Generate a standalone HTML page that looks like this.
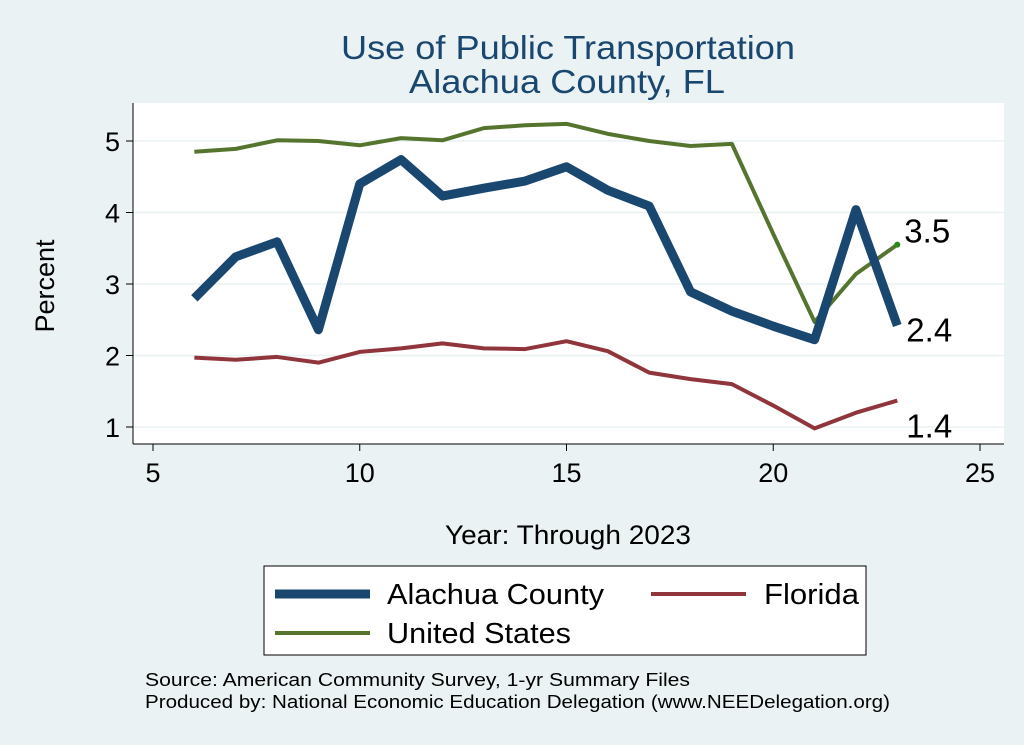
<!DOCTYPE html>
<html><head><meta charset="utf-8"><style>
body{margin:0;background:#eaf2f3;}
svg{display:block;font-family:"Liberation Sans",sans-serif;}
</style></head><body>
<svg width="1024" height="745" viewBox="0 0 1024 745">
<rect x="0" y="0" width="1024" height="745" fill="#eaf2f3"/>
<rect x="133" y="103" width="871" height="341" fill="#ffffff"/>
<text x="341" y="59" textLength="454" lengthAdjust="spacingAndGlyphs" font-size="33" fill="#1a476f">Use of Public Transportation</text>
<text x="409" y="93" textLength="316" lengthAdjust="spacingAndGlyphs" font-size="33" fill="#1a476f">Alachua County, FL</text>
<g id="grid"></g><g id="axes"></g><g id="series"></g>
<text transform="translate(54,286) rotate(-90)" text-anchor="middle" font-size="27" fill="#000">Percent</text>
<text x="445" y="544" textLength="246" lengthAdjust="spacingAndGlyphs" font-size="27" fill="#000">Year: Through 2023</text>
<g>
<rect x="264" y="566" width="602" height="89" fill="#fff" stroke="#000" stroke-width="1"/>
<line x1="275" y1="594" x2="370" y2="594" stroke="#1a476f" stroke-width="9"/>
<text x="387" y="604" textLength="217" lengthAdjust="spacingAndGlyphs" font-size="29">Alachua County</text>
<line x1="651" y1="594" x2="746" y2="594" stroke="#90353b" stroke-width="4"/>
<text x="764" y="604" textLength="95" lengthAdjust="spacingAndGlyphs" font-size="29">Florida</text>
<line x1="275" y1="633" x2="370" y2="633" stroke="#55752f" stroke-width="4"/>
<text x="387" y="643" textLength="184" lengthAdjust="spacingAndGlyphs" font-size="29">United States</text>
</g>
<text x="145" y="686" textLength="545" lengthAdjust="spacingAndGlyphs" font-size="18">Source: American Community Survey, 1-yr Summary Files</text>
<text x="145" y="708" textLength="745" lengthAdjust="spacingAndGlyphs" font-size="18">Produced by: National Economic Education Delegation (www.NEEDelegation.org)</text>
</svg>
<script>
const years=[6,7,8,9,10,11,12,13,14,15,16,17,18,19,20,21,22,23];
const alachua=[2.8,3.38,3.59,2.36,4.4,4.74,4.23,4.34,4.44,4.64,4.31,4.09,2.89,2.62,2.41,2.22,4.04,2.42];
const florida=[1.97,1.94,1.98,1.9,2.05,2.1,2.17,2.1,2.09,2.2,2.06,1.76,1.67,1.6,1.3,0.98,1.2,1.37];
const us=[4.85,4.89,5.01,5.0,4.94,5.04,5.01,5.18,5.22,5.24,5.1,5.0,4.93,4.96,3.7,2.47,3.14,3.55];
const xTicks=[5,10,15,20,25];
const yTicks=[1,2,3,4,5];
const NS="http://www.w3.org/2000/svg";
const X=v=>153+(v-5)*41.35;
const Y=v=>427-(v-1)*71.5;
function mk(t,a,p){const e=document.createElementNS(NS,t);for(const k in a)e.setAttribute(k,a[k]);p.appendChild(e);return e;}
const grid=document.getElementById('grid'),axes=document.getElementById('axes'),ser=document.getElementById('series');
yTicks.forEach(t=>{
 const g=mk('line',{x1:133,x2:1004,y1:Y(t),y2:Y(t),stroke:'#eaf2f3','stroke-width':1.5},grid);
 
 const tk=mk('line',{x1:126,x2:133,y1:Y(t),y2:Y(t),stroke:'#000'},axes);
 
 const l=mk('text',{x:120,y:Y(t)+10,'text-anchor':'end','font-size':27},axes);l.textContent=t;
 
});
mk('line',{x1:133,x2:133,y1:103,y2:444,stroke:'#000'},axes);
mk('line',{x1:133,x2:1004,y1:444,y2:444,stroke:'#000'},axes);
xTicks.forEach(t=>{
 const tk=mk('line',{x1:X(t),x2:X(t),y1:444,y2:451,stroke:'#000'},axes);
 
 const l=mk('text',{x:X(t),y:482,'text-anchor':'middle','font-size':27},axes);l.textContent=t;
 
});
function line(vals,color,w,name){
 const p=mk('polyline',{points:vals.map((v,i)=>X(years[i])+','+Y(v)).join(' '),fill:'none',stroke:color,'stroke-width':w,'stroke-linejoin':'round'},ser);
 
}
line(florida,'#90353b',4,'florida-line');
line(us,'#55752f',4,'us-line');
line(alachua,'#1a476f',9,'alachua-line');
const n=years.length-1;
const d=mk('circle',{cx:X(years[n]),cy:Y(us[n]),r:3,fill:'#2a8a1a'},ser);

function lab(v,dx,dy,name){const t=mk('text',{x:X(years[n])+dx,y:Y(v)+dy,'font-size':33},ser);t.textContent=v.toFixed(1);
 }
lab(us[n],7,-2,'us-end-label');
lab(alachua[n],9,16,'alachua-end-label');
lab(florida[n],9,37,'florida-end-label');
</script>
</body></html>
